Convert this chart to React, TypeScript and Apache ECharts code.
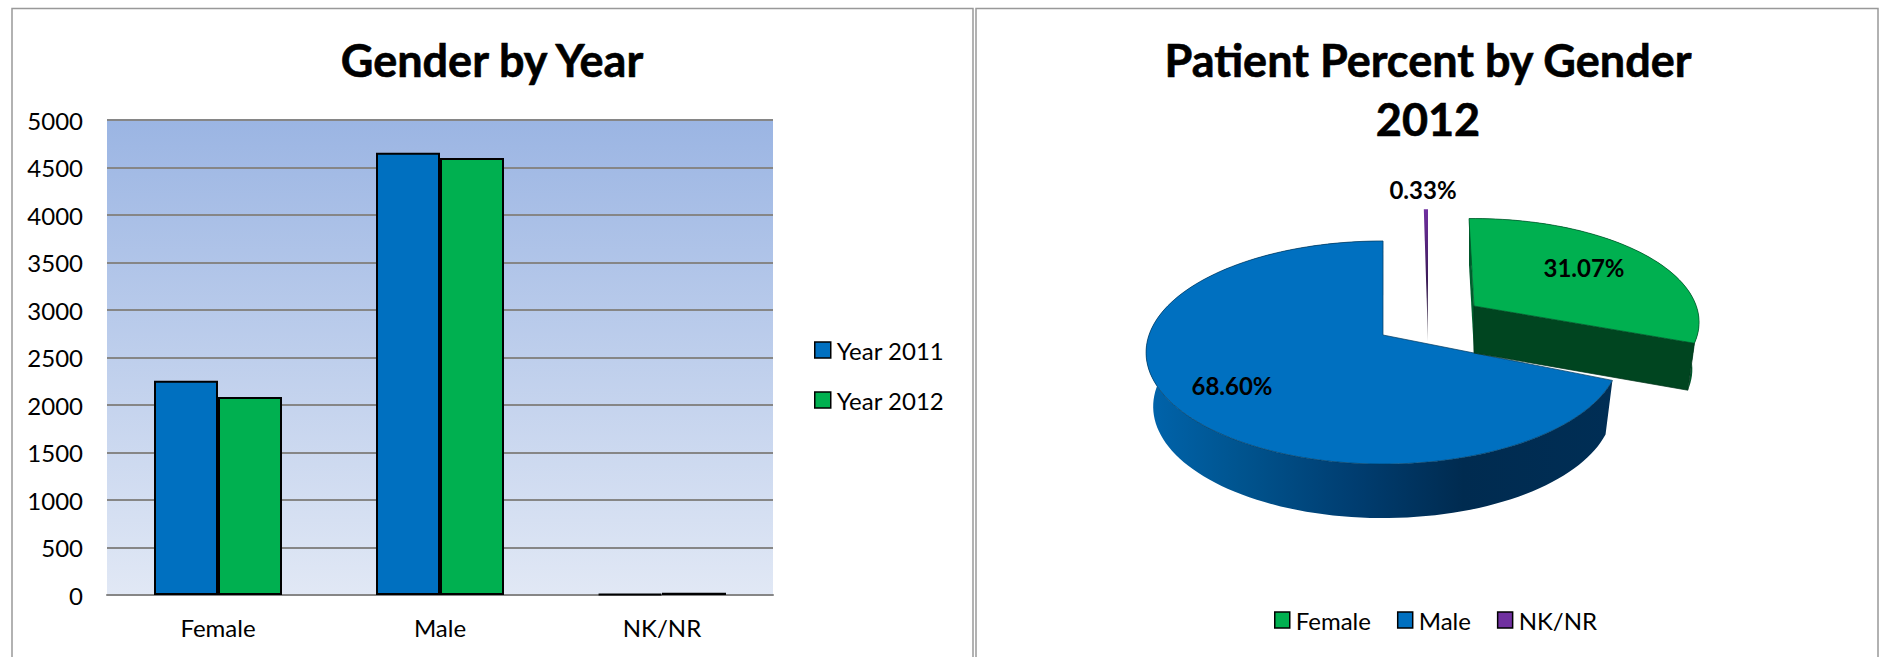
import React, { useEffect, useRef } from "react";
import * as echarts from "echarts";

const categories = ["Female", "Male", "NK/NR"];
const year2011 = [2255, 4655, 12];
const year2012 = [2085, 4600, 24];
const yearNames = ["Year 2011", "Year 2012"];
const pieNames = ["Female", "Male", "NK/NR"];
const piePercents = [31.07, 68.6, 0.33];

const FONT = "Lato, 'Open Sans', sans-serif";
const BLUE = "#0070C0";
const GREEN = "#00B050";
const PURPLE = "#7030A0";

// Slice placement on the page (layout only)
const sliceLayout: Record<string, any> = {
  Female: { ax: 1474, ay: 306, sx: 0.95, sy: 0.93, depth: 47, rot: -1.5, label: [1584, 267] },
  Male: { ax: 1383, ay: 335, sx: 1, sy: 1, depth: 54, rot: 1.2, label: [1232, 385] },
  "NK/NR": { ax: 1428, ay: 341, sx: 1, sy: 1.4, depth: 0, rot: 0, label: [1423, 189] },
};

const project = (l: any, deg: number, bottom = false) => {
  const t = (deg * Math.PI) / 180;
  const u = Math.sin(t);
  const v = -Math.cos(t);
  const k = 0.157;
  const d = 1 - k * v;
  const shrink = bottom ? 0.97 : 1;
  return [
    l.ax + (l.sx * 234 * shrink * u) / d,
    l.ay + (l.sy * 108.8 * v) / d + (bottom ? l.depth : 0),
  ];
};

const arc = (l: any, a: number, b: number, bottom = false) => {
  const pts: number[][] = [];
  const n = Math.max(2, Math.ceil(Math.abs(b - a) / 2));
  for (let i = 0; i <= n; i++) pts.push(project(l, a + ((b - a) * i) / n, bottom));
  return pts;
};

const startAngle = (idx: number) =>
  piePercents.slice(0, idx).reduce((s, v) => s + v, 0) * 3.6;

const grad = (x: number, y: number, x2: number, y2: number, stops: [number, string][]) =>
  new echarts.graphic.LinearGradient(x, y, x2, y2, stops.map(([offset, color]) => ({ offset, color })));

const sliceRender = (name: string, idx: number) => (_p: any, api: any) => {
  const l = sliceLayout[name];
  const value = api.value(0);
  const a = startAngle(idx) + l.rot;
  const b = a + value * 3.6;
  const children: any[] = [];
  const top = arc(l, a, b);
  const apex = [l.ax, l.ay];
  const text = {
    type: "text",
    z2: 20,
    style: {
      text: `${value.toFixed(2)}%`,
      x: l.label[0],
      y: l.label[1],
      font: `bold 24px ${FONT}`,
      fill: "#000",
      textAlign: "center",
      textVerticalAlign: "middle",
    },
  };
  if (name === "Male") {
    const band = [...arc(l, a, b), ...arc(l, a, b, true).reverse()];
    children.push({
      type: "polygon",
      shape: { points: band },
      style: {
        fill: grad(0, 0, 1, 0, [
          [0, "#0064AC"],
          [0.2, "#00548F"],
          [0.45, "#003D70"],
          [0.68, "#002B50"],
          [1, "#002E55"],
        ]),
      },
    });
  }
  if (name === "Female") {
    const n = project(l, a);
    const e = project(l, b);
    const eb = project(l, b, true);
    children.push({
      type: "polygon",
      shape: { points: [n, apex, [apex[0], apex[1] + l.depth], [n[0], n[1] + 46]] },
      style: { fill: "#00602E" },
    });
    children.push({
      type: "polygon",
      shape: { points: [...arc(l, a, b), ...arc(l, a, b, true).reverse()] },
      style: { fill: "#00582B" },
    });
    children.push({
      type: "polygon",
      shape: { points: [apex, e, eb, [apex[0], apex[1] + l.depth]] },
      style: { fill: "#004520", stroke: "#00331A", lineWidth: 0.7 },
    });
  }
  const isThin = name === "NK/NR";
  children.push({
    type: "polygon",
    shape: { points: [apex, ...top] },
    style: {
      fill: isThin
        ? grad(0, 0, 0, 1, [
            [0, PURPLE],
            [0.55, "#3A1A55"],
            [1, "#888"],
          ])
        : name === "Male"
        ? BLUE
        : GREEN,
      stroke: isThin ? undefined : name === "Male" ? "#00395F" : "#00552A",
      lineWidth: 0.7,
    },
  });
  children.push(text);
  return { type: "group", children };
};

export default function App() {
  const ref = useRef<HTMLDivElement>(null);
  useEffect(() => {
    document.body.style.margin = "0";
    document.body.style.overflow = "hidden";
    const chart = echarts.init(ref.current!, null, { renderer: "svg" });
    const barStyle = (color: string) => ({ color, borderColor: "#000", borderWidth: 2 });
    const pieSeries = ["Male", "NK/NR", "Female"].map((name) => {
      const idx = pieNames.indexOf(name);
      return {
        type: "custom",
        name,
        coordinateSystem: "none",
        silent: true,
        itemStyle: { color: [GREEN, BLUE, PURPLE][idx] },
        data: [[piePercents[idx]]],
        renderItem: sliceRender(name, idx),
      };
    });
    const titleStyle = {
      fontFamily: FONT,
      fontWeight: "bold",
      fontSize: 45,
      color: "#000",
      lineHeight: 59,
      textBorderColor: "#000",
      textBorderWidth: 0.6,
    };
    chart.setOption({
      animation: false,
      backgroundColor: "#fff",
      textStyle: { fontFamily: FONT },
      title: [
        { text: "Gender by Year", left: 487, top: 25, textAlign: "center", textStyle: titleStyle },
        { text: "Patient Percent by Gender\n2012", left: 1423, top: 25, textAlign: "center", textStyle: titleStyle },
      ],
      graphic: [
        { type: "rect", z: -1, shape: { x: 12, y: 8.5, width: 961, height: 700 }, style: { fill: "#fff", stroke: "#999", lineWidth: 1.5 } },
        { type: "rect", z: -1, shape: { x: 976, y: 8.5, width: 902, height: 700 }, style: { fill: "#fff", stroke: "#999", lineWidth: 1.5 } },
      ],
      legend: [
        {
          data: yearNames,
          orient: "vertical",
          left: 814,
          top: 338,
          icon: "rect",
          itemWidth: 16,
          itemHeight: 16,
          itemGap: 26,
          textStyle: { fontFamily: FONT, fontSize: 24, color: "#000", padding: [0, 0, 0, 1] },
          itemStyle: { borderColor: "#000", borderWidth: 1.5 },
          padding: 0,
        },
        {
          data: pieNames,
          orient: "horizontal",
          left: 1274,
          top: 608,
          icon: "rect",
          itemWidth: 15,
          itemHeight: 16,
          itemGap: 26,
          textStyle: { fontFamily: FONT, fontSize: 24, color: "#000", padding: [0, 0, 0, 1] },
          itemStyle: { borderColor: "#000", borderWidth: 1.5 },
          padding: 0,
        },
      ],
      grid: {
        left: 107,
        top: 120,
        width: 666,
        height: 475,
        show: true,
        borderWidth: 0,
        backgroundColor: grad(0, 0, 0, 1, [
          [0, "#9BB5E3"],
          [1, "#E1E8F5"],
        ]),
      },
      xAxis: {
        type: "category",
        data: categories,
        axisTick: { show: false },
        axisLine: { lineStyle: { color: "#868686", width: 2 } },
        axisLabel: { color: "#000", fontSize: 24, fontFamily: FONT, margin: 20 },
      },
      yAxis: {
        type: "value",
        min: 0,
        max: 5000,
        interval: 500,
        axisLine: { show: false },
        axisTick: { show: false },
        splitLine: { lineStyle: { color: "#868686", width: 2 } },
        axisLabel: {
          color: "#000",
          fontSize: 24,
          fontFamily: FONT,
          margin: 24,
          padding: [0, 0, 6, 0],
          formatter: (v: number) => String(v),
        },
      },
      series: [
        { type: "bar", name: yearNames[0], data: year2011, barWidth: 64, barGap: 0, itemStyle: barStyle(BLUE) },
        { type: "bar", name: yearNames[1], data: year2012, barWidth: 64, barGap: 0, itemStyle: barStyle(GREEN) },
        ...pieSeries,
      ],
    });
    return () => chart.dispose();
  }, []);
  return <div ref={ref} style={{ width: 1881, height: 657 }} />;
}
